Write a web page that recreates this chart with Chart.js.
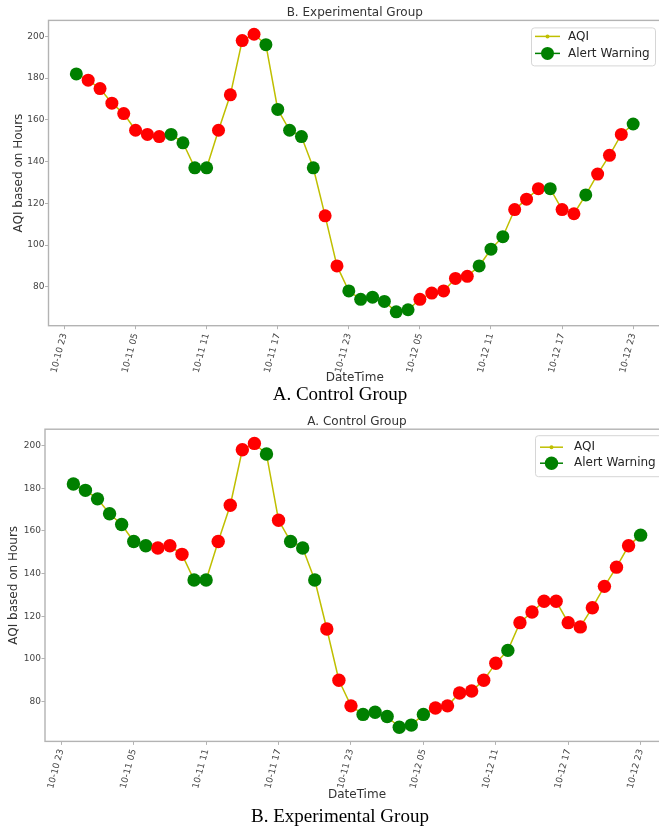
<!DOCTYPE html>
<html>
<head>
<meta charset="utf-8">
<script src="https://cdn.jsdelivr.net/npm/chart.js@4.4.0/dist/chart.umd.min.js"></script>
<style>
html, body { margin: 0; padding: 0; background: #fff; width: 659px; height: 827px; overflow: hidden; position: relative; }
canvas { position: absolute; left: 0; }
.caption { position: absolute; left: 0; width: 680px; text-align: center; font-family: "Liberation Serif", "Times New Roman", serif; font-size: 19px; line-height: 19px; color: #000; }
</style>
</head>
<body>
<canvas id="chartA" style="top:0px;width:672px;height:388px" width="672" height="388"></canvas>
<div class="caption" style="top:384px">A. Control Group</div>
<canvas id="chartB" style="top:410px;width:680px;height:394px" width="680" height="394"></canvas>
<div class="caption" style="top:806px">B. Experimental Group</div>
<script>
// hourly readings, 10-11 00 .. 10-12 23
var times = ['10-11 00','10-11 01','10-11 02','10-11 03','10-11 04','10-11 05','10-11 06','10-11 07',
             '10-11 08','10-11 09','10-11 10','10-11 11','10-11 12','10-11 13','10-11 14','10-11 15',
             '10-11 16','10-11 17','10-11 18','10-11 19','10-11 20','10-11 21','10-11 22','10-11 23',
             '10-12 00','10-12 01','10-12 02','10-12 03','10-12 04','10-12 05','10-12 06','10-12 07',
             '10-12 08','10-12 09','10-12 10','10-12 11','10-12 12','10-12 13','10-12 14','10-12 15',
             '10-12 16','10-12 17','10-12 18','10-12 19','10-12 20','10-12 21','10-12 22','10-12 23'];
var aqi = [182,179,175,168,163,155,153,152,153,149,137,137,155,172,198,201,
           196,165,155,152,137,114,90,78,74,75,73,68,69,74,77,78,
           84,85,90,98,104,117,122,127,127,117,115,124,134,143,153,158];
// alert warning colour per hour: g = green, r = red
var alertTop = ['g','r','r','r','r','r','r','r','g','g','g','g','r','r','r','r',
                'g','g','g','g','g','r','r','g','g','g','g','g','g','r','r','r',
                'r','r','g','g','g','r','r','r','g','r','r','g','r','r','r','g'];
var alertBottom = ['g','g','g','g','g','g','g','r','r','r','g','g','r','r','r','r',
                   'g','r','g','g','g','r','r','r','g','g','g','g','g','g','r','r',
                   'r','r','r','r','g','r','r','r','r','r','r','r','r','r','r','g'];
var tickHours = [0, 6, 12, 18, 24, 30, 36, 42, 48];
var tickLabels = ['10-10 23','10-11 05','10-11 11','10-11 17','10-11 23','10-12 05','10-12 11','10-12 17','10-12 23'];
var yTicks = [80, 100, 120, 140, 160, 180, 200];

var FONT = "'DejaVu Sans', sans-serif";
var yellow = '#bfbf00', green = '#008000', red = '#ff0000', axisColor = '#b3b3b3';

// legend drawn like matplotlib's boxed legend
var legendBox = {
    id: 'legendBox',
    afterDraw: function(chart) {
        var o = chart.options.plugins.legendBox;
        var ctx = chart.ctx, a = chart.chartArea;
        var x = a.right - o.right - o.width, y = a.top + o.top;
        ctx.save();
        ctx.beginPath();
        ctx.roundRect(x + 0.5, y + 0.5, o.width, o.height, 3);
        ctx.fillStyle = 'rgba(255,255,255,0.85)';
        ctx.fill();
        ctx.strokeStyle = '#d6d6d6';
        ctx.lineWidth = 1;
        ctx.stroke();
        ctx.font = '12px ' + FONT;
        ctx.textBaseline = 'middle';
        ctx.fillStyle = '#262626';
        // AQI
        ctx.strokeStyle = yellow; ctx.lineWidth = 1.5;
        ctx.beginPath(); ctx.moveTo(x + o.l0, y + o.r1); ctx.lineTo(x + o.l1, y + o.r1); ctx.stroke();
        ctx.fillStyle = yellow;
        ctx.beginPath(); ctx.arc(x + (o.l0 + o.l1) / 2, y + o.r1, 2, 0, Math.PI * 2); ctx.fill();
        ctx.fillStyle = '#262626';
        ctx.fillText('AQI', x + o.tx, y + o.r1);
        // Alert Warning
        ctx.strokeStyle = green;
        ctx.beginPath(); ctx.moveTo(x + o.l0, y + o.r2); ctx.lineTo(x + o.l1, y + o.r2); ctx.stroke();
        ctx.fillStyle = green;
        ctx.beginPath(); ctx.arc(x + (o.l0 + o.l1) / 2, y + o.r2, o.dot, 0, Math.PI * 2); ctx.fill();
        ctx.fillStyle = '#262626';
        ctx.fillText('Alert Warning', x + o.tx, y + o.r2);
        ctx.restore();
    }
};

var frame = {
    id: 'frame',
    beforeDatasetsDraw: function(chart) {
        var ctx = chart.ctx, a = chart.chartArea;
        ctx.save();
        ctx.strokeStyle = axisColor;
        ctx.lineWidth = 1.4;
        ctx.strokeRect(a.left, a.top, a.right - a.left, a.bottom - a.top);
        ctx.restore();
    }
};

function makeChart(id, title, alerts, g) {
    var pts = aqi.map(function(v, i) { return { x: i + 1, y: v }; }); // i+1 = hours after 10-10 23
    var colors = alerts.map(function(c) { return c === 'g' ? green : red; });
    return new Chart(document.getElementById(id), {
        type: 'line',
        data: {
            datasets: [{
                label: 'Alert Warning',
                data: pts,
                showLine: false,
                pointRadius: g.dot,
                pointHoverRadius: g.dot,
                pointBackgroundColor: colors,
                pointBorderColor: colors,
                pointBorderWidth: 0,
                order: 0
            }, {
                label: 'AQI',
                data: pts,
                borderColor: yellow,
                borderWidth: 1.5,
                pointRadius: 2,
                pointBackgroundColor: yellow,
                pointBorderWidth: 0,
                order: 1
            }]
        },
        options: {
            responsive: false,
            animation: false,
            layout: { padding: { left: 0, right: g.padRight, top: 0, bottom: 0 } },
            plugins: {
                legend: { display: false },
                tooltip: { enabled: false },
                title: {
                    display: true, text: title, color: '#333', fullSize: false,
                    font: { family: FONT, size: 12, weight: 'normal', lineHeight: 1.2 },
                    padding: { top: g.titleTop, bottom: 0 }
                },
                legendBox: g.legend
            },
            scales: {
                x: {
                    type: 'linear', min: -1.35, max: 50.35,
                    afterBuildTicks: function(s) { s.ticks = tickHours.map(function(v) { return { value: v }; }); },
                    afterFit: function(s) { s.height = g.xHeight; },
                    ticks: {
                        minRotation: 75, maxRotation: 75, padding: 3, color: '#444',
                        font: { family: FONT, size: 9 },
                        callback: function(v, i) { return tickLabels[i]; }
                    },
                    grid: { drawOnChartArea: false, drawTicks: true, tickLength: 3.5, color: axisColor },
                    border: { display: false },
                    title: {
                        display: true, text: 'DateTime', color: '#333',
                        font: { family: FONT, size: 12, lineHeight: 1.2 },
                        padding: { top: 0, bottom: g.xTitlePad }
                    }
                },
                y: {
                    min: 61.35, max: 207.65,
                    afterBuildTicks: function(s) { s.ticks = yTicks.map(function(v) { return { value: v }; }); },
                    afterFit: function(s) { s.width = g.left; },
                    ticks: { padding: 0.5, color: '#444', font: { family: FONT, size: 9 } },
                    grid: { drawOnChartArea: false, drawTicks: true, tickLength: 3.5, color: axisColor },
                    border: { display: false },
                    title: {
                        display: true, text: 'AQI based on Hours', color: '#333',
                        font: { family: FONT, size: 12, lineHeight: 1.2 },
                        padding: { top: g.yTitlePad, bottom: 0 }
                    }
                }
            }
        },
        plugins: [legendBox, frame]
    });
}

makeChart('chartA', 'B. Experimental Group', alertTop, {
    left: 48.5, padRight: 11, titleTop: 6, xHeight: 62.3, xTitlePad: 2.8, yTitlePad: 11.8, dot: 6.5,
    legend: { width: 124, height: 38, right: 6, top: 7, l0: 4, l1: 29, tx: 37, r1: 9, r2: 26, dot: 6.5 }
});
makeChart('chartB', 'A. Control Group', alertBottom, {
    left: 45, padRight: 11, titleTop: 4.8, xHeight: 62.6, xTitlePad: 1.8, yTitlePad: 6.3, dot: 6.7,
    legend: { width: 128, height: 41, right: 6, top: 6, l0: 5, l1: 28, tx: 39, r1: 12, r2: 28, dot: 6.7 }
});
</script>
</body>
</html>
